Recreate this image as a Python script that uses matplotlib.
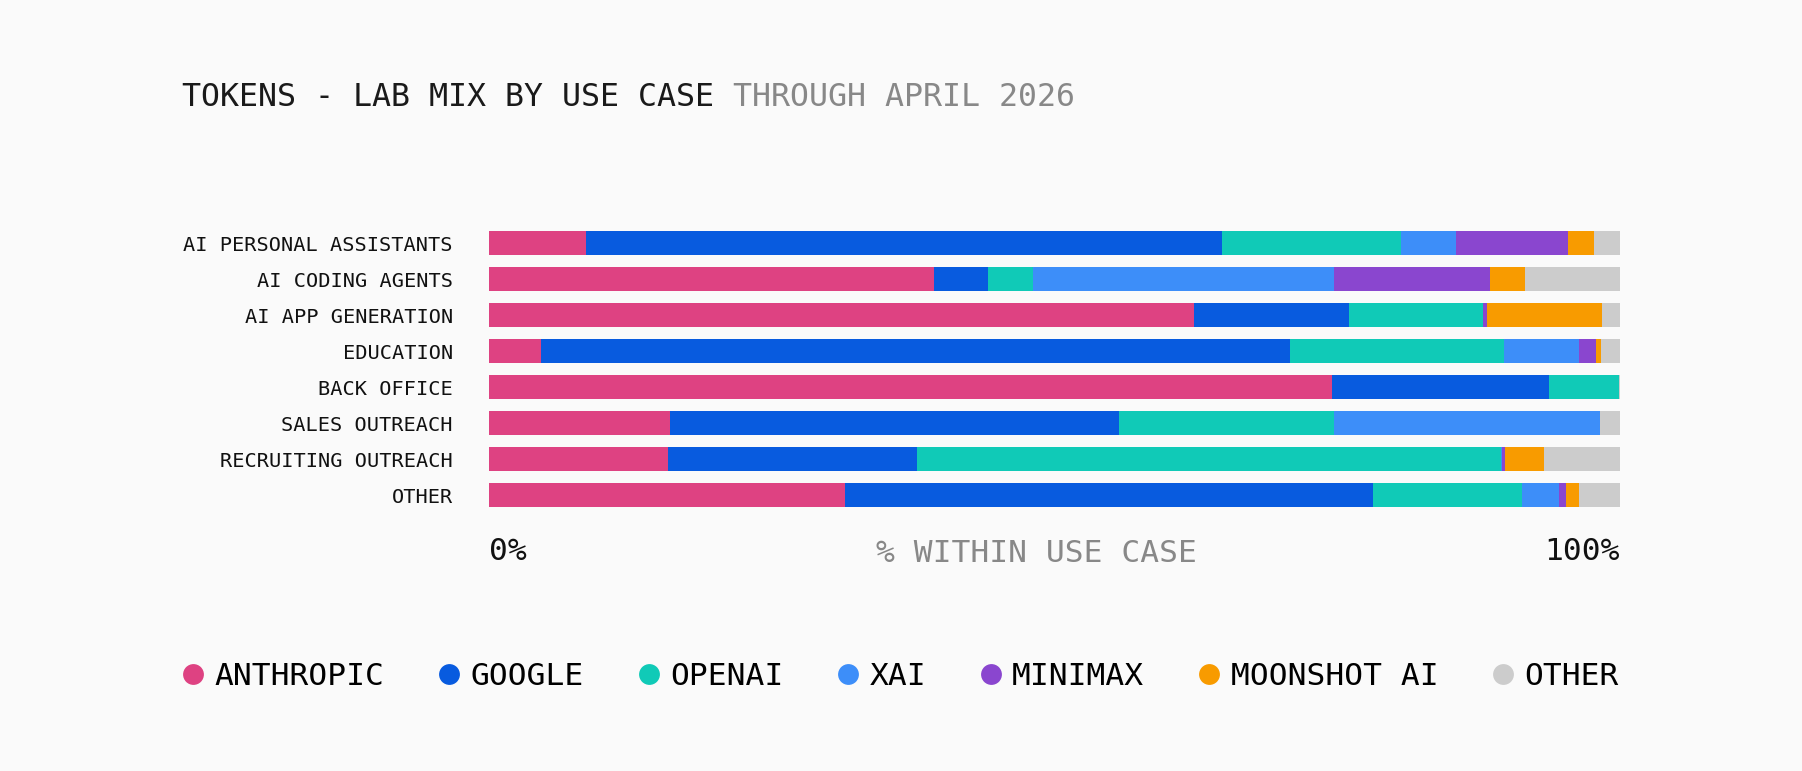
import numpy as np
import matplotlib.pyplot as plt
from matplotlib.lines import Line2D

plt.rcParams['font.family'] = ['DejaVu Sans Mono']

# use cases, top to bottom
use_cases = ["AI PERSONAL ASSISTANTS", "AI CODING AGENTS", "AI APP GENERATION",
             "EDUCATION", "BACK OFFICE", "SALES OUTREACH",
             "RECRUITING OUTREACH", "OTHER"]

labs = ["ANTHROPIC", "GOOGLE", "OPENAI", "XAI", "MINIMAX", "MOONSHOT AI", "OTHER"]
colors = ["#DE4282", "#085BDF", "#10CAB7", "#3D8EF9", "#8A46CF", "#F89B00", "#CCCCCC"]

# share of tokens (%) per lab, one value per use case
anthropic = [8.6, 39.3, 62.3, 4.6, 74.5, 16.0, 15.8, 31.5]
google    = [56.2, 4.8, 13.7, 66.2, 19.2, 39.7, 22.0, 46.7]
openai    = [15.8, 4.0, 11.9, 18.9, 6.2, 19.0, 51.7, 13.1]
xai       = [4.9, 26.6, 0.0, 6.7, 0.0, 23.5, 0.1, 3.3]
minimax   = [9.9, 13.8, 0.3, 1.5, 0.0, 0.0, 0.2, 0.6]
moonshot  = [2.3, 3.1, 10.2, 0.4, 0.0, 0.0, 3.5, 1.2]
other     = [2.3, 8.4, 1.6, 1.7, 0.1, 1.8, 6.7, 3.6]

series = [anthropic, google, openai, xai, minimax, moonshot, other]

bg = "#FAFAFA"
fig = plt.figure(figsize=(18.02, 7.71), dpi=100, facecolor=bg)
ax = fig.add_axes([0.2714, 0.3346, 0.6276, 0.3735], facecolor=bg)

y = np.arange(len(use_cases))
left = np.zeros(len(use_cases))
for vals, col, name in zip(series, colors, labs):
    vals = np.array(vals)
    ax.barh(y, vals, left=left, height=0.667, color=col, linewidth=0, label=name)
    left += vals

ax.set_xlim(0, 100)
ax.set_ylim(len(use_cases) - 0.5, -0.5)
for s in ax.spines.values():
    s.set_visible(False)

ax.set_yticks(y)
ax.set_yticklabels(use_cases, fontsize=14.6, color="#111111")
ax.tick_params(axis='y', length=0, pad=26)

ax.set_xticks([0, 100])
ax.set_xticklabels(["0%", "100%"], fontsize=22.5, color="#111111")
ax.tick_params(axis='x', length=0, pad=17)
xl = ax.get_xticklabels()
xl[0].set_ha('left')
xl[1].set_ha('right')

ax.set_xlabel("% WITHIN USE CASE", fontsize=22.5, color="#888888", va='center')
ax.xaxis.set_label_coords(0.4836, -0.139)

# title in two colours
t1 = fig.text(0.101, 0.8625, "TOKENS - LAB MIX BY USE CASE", fontsize=22.8,
              color="#1A1A1A", va='baseline', ha='left')
fig.canvas.draw()
ax.annotate("THROUGH APRIL 2026", xy=(1, 0), xycoords=t1, xytext=(19, 0),
            textcoords='offset pixels', fontsize=22.8, color="#888888",
            va='bottom', ha='left', annotation_clip=False)

handles = [Line2D([], [], marker='o', linestyle='none', markersize=15,
                  markerfacecolor=c, markeredgewidth=0) for c in colors]
fig.legend(handles, labs, loc='center left', bbox_to_anchor=(0.101, 0.1232),
           ncol=len(labs), frameon=False, fontsize=22.5, handlelength=0.7,
           handletextpad=0.33, columnspacing=1.73, borderpad=0, borderaxespad=0)

plt.savefig("out.png", dpi=100, facecolor=bg)
